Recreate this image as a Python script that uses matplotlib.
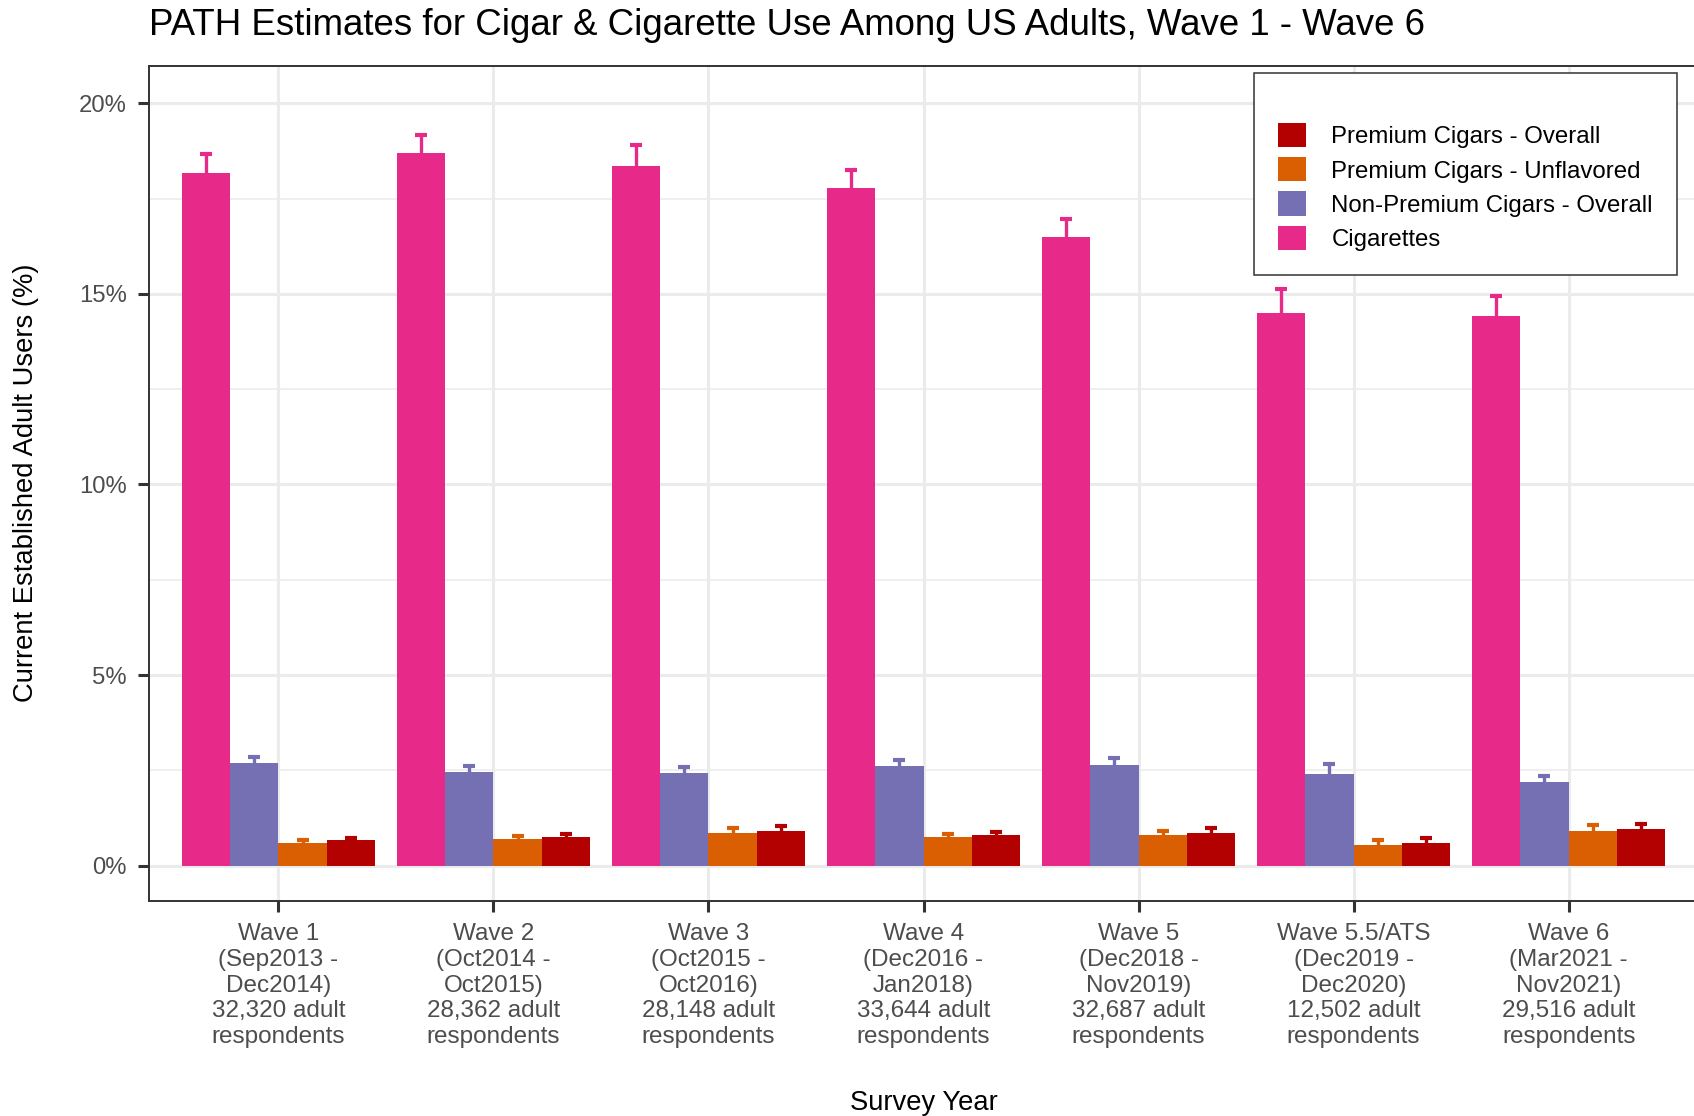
import matplotlib
matplotlib.use("Agg")
import matplotlib.pyplot as plt
from matplotlib.patches import Patch
from matplotlib.ticker import FuncFormatter, MultipleLocator
import numpy as np

plt.rcParams["font.family"] = ["Liberation Sans", "DejaVu Sans"]

# Survey waves (x-axis categories)
waves = [
    "Wave 1\n(Sep2013 -\nDec2014)\n32,320 adult\nrespondents",
    "Wave 2\n(Oct2014 -\nOct2015)\n28,362 adult\nrespondents",
    "Wave 3\n(Oct2015 -\nOct2016)\n28,148 adult\nrespondents",
    "Wave 4\n(Dec2016 -\nJan2018)\n33,644 adult\nrespondents",
    "Wave 5\n(Dec2018 -\nNov2019)\n32,687 adult\nrespondents",
    "Wave 5.5/ATS\n(Dec2019 -\nDec2020)\n12,502 adult\nrespondents",
    "Wave 6\n(Mar2021 -\nNov2021)\n29,516 adult\nrespondents",
]

# Prevalence estimates (%) and upper confidence limits (%)
cigarettes = [18.18, 18.69, 18.35, 17.78, 16.50, 14.49, 14.43]
cigarettes_upper = [18.66, 19.17, 18.91, 18.26, 16.98, 15.14, 14.94]

non_premium = [2.69, 2.45, 2.42, 2.62, 2.64, 2.39, 2.18]
non_premium_upper = [2.85, 2.62, 2.59, 2.78, 2.82, 2.66, 2.35]

premium_unflavored = [0.60, 0.69, 0.86, 0.74, 0.81, 0.53, 0.92]
premium_unflavored_upper = [0.67, 0.77, 0.98, 0.84, 0.92, 0.67, 1.06]

premium_overall = [0.66, 0.74, 0.92, 0.79, 0.86, 0.59, 0.96]
premium_overall_upper = [0.73, 0.82, 1.03, 0.89, 0.98, 0.73, 1.10]

series_names = [
    "Cigarettes",
    "Non-Premium Cigars - Overall",
    "Premium Cigars - Unflavored",
    "Premium Cigars - Overall",
]
series_values = [cigarettes, non_premium, premium_unflavored, premium_overall]
series_upper = [cigarettes_upper, non_premium_upper,
                premium_unflavored_upper, premium_overall_upper]
series_colors = ["#E7298A", "#7570B3", "#D95F02", "#B30000"]

W, H = 1694, 1116
fig = plt.figure(figsize=(W / 100, H / 100), dpi=100)
ax = fig.add_axes([149.3 / W, 1 - 901 / H, (1697.7 - 149.3) / W, (901 - 65.7) / H])

x = np.arange(1, len(waves) + 1)
dodge = 0.9
bw = dodge / len(series_names)
for i, (name, vals, upp, col) in enumerate(zip(series_names, series_values,
                                                series_upper, series_colors)):
    pos = x - dodge / 2 + bw * (i + 0.5)
    vals = np.asarray(vals)
    err = np.asarray(upp) - vals
    ax.errorbar(pos, vals, yerr=err, fmt="none", ecolor=col, elinewidth=2.4,
                capsize=4.6, capthick=3.0, zorder=2)
    ax.bar(pos, vals, width=bw, color=col, linewidth=0, zorder=3)

ax.set_xlim(0.4, 7.6)
ax.set_ylim(-0.93, 20.99)
ax.set_xticks(x)
ax.set_xticklabels(waves, fontsize=17.5, color="#4D4D4D", linespacing=1.22)
ax.yaxis.set_major_locator(MultipleLocator(5))
ax.yaxis.set_minor_locator(MultipleLocator(2.5))
ax.yaxis.set_major_formatter(FuncFormatter(lambda v, p: f"{v:.0f}%"))
ax.tick_params(axis="y", labelsize=17.2, labelcolor="#4D4D4D", length=8,
               width=2.2, color="#333333", pad=8)
ax.tick_params(axis="x", length=8, width=2.2, color="#333333", pad=8)
ax.tick_params(axis="y", which="minor", length=0)

ax.set_axisbelow(True)
ax.grid(True, which="major", color="#EBEBEB", linewidth=2.2)
ax.grid(True, which="minor", axis="y", color="#EBEBEB", linewidth=1.1)
for s in ax.spines.values():
    s.set_color("#333333")
    s.set_linewidth(1.4)

fig.text(149 / W, 1 - 35 / H,
         "PATH Estimates for Cigar & Cigarette Use Among US Adults, Wave 1 - Wave 6",
         fontsize=26.4, color="black", ha="left", va="baseline")
fig.text(26 / W, 1 - 483 / H, "Current Established Adult Users (%)",
         fontsize=19.7, rotation=90, ha="center", va="center")
fig.text(923.5 / W, 1 - 1110 / H, "Survey Year", fontsize=19.7,
         ha="center", va="baseline")

handles = [Patch(facecolor=c, edgecolor="none") for c in series_colors[::-1]]
leg = ax.legend(handles, series_names[::-1], loc="upper right",
                bbox_to_anchor=(1677 / W, 1 - 73.3 / H),
                bbox_transform=fig.transFigure, borderaxespad=0,
                fontsize=17.3, title=" ", title_fontsize=13.5,
                handlelength=1.17, handleheight=1.17, handletextpad=1.05,
                labelspacing=0.37, borderpad=1.0, fancybox=False,
                framealpha=1)
leg.get_frame().set_edgecolor("#333333")
leg.get_frame().set_linewidth(1.1)

fig.savefig("out.png", dpi=100)
